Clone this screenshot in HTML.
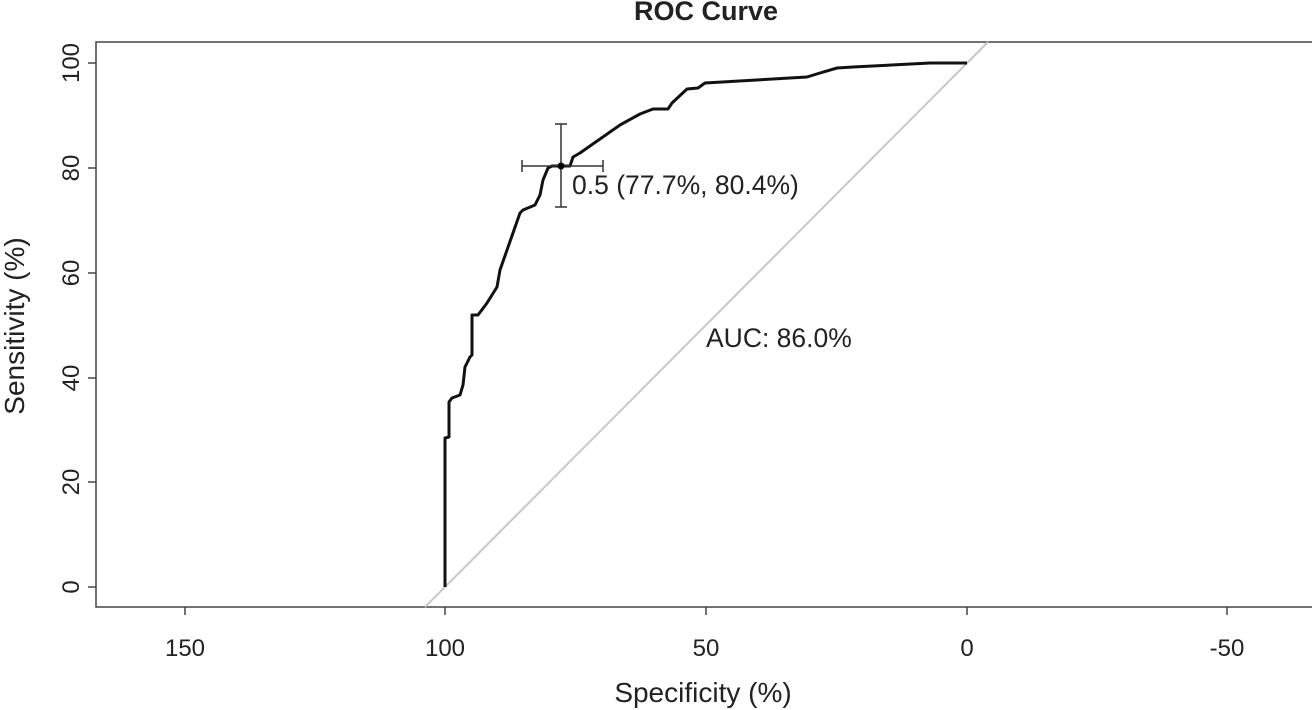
<!DOCTYPE html>
<html><head><style>body{margin:0;background:#fff}svg{display:block}</style></head><body>
<svg width="1312" height="710" xmlns="http://www.w3.org/2000/svg" font-family="Liberation Sans, sans-serif" fill="#222">
<text x="706" y="20" font-size="27" font-weight="bold" text-anchor="middle">ROC Curve</text>
<rect x="96" y="42" width="1230" height="565" fill="none" stroke="#444" stroke-width="1.5"/>
<g stroke="#444" stroke-width="1.5">
<line x1="96" y1="63" x2="88" y2="63"/><line x1="96" y1="168" x2="88" y2="168"/><line x1="96" y1="273" x2="88" y2="273"/><line x1="96" y1="378" x2="88" y2="378"/><line x1="96" y1="482" x2="88" y2="482"/><line x1="96" y1="587" x2="88" y2="587"/>
<line x1="185" y1="607" x2="185" y2="615"/><line x1="445" y1="607" x2="445" y2="615"/><line x1="706" y1="607" x2="706" y2="615"/><line x1="967" y1="607" x2="967" y2="615"/><line x1="1227" y1="607" x2="1227" y2="615"/>
</g>
<g font-size="24" text-anchor="middle">
<text transform="translate(79,63) rotate(-90)">100</text>
<text transform="translate(79,168) rotate(-90)">80</text>
<text transform="translate(79,273) rotate(-90)">60</text>
<text transform="translate(79,378) rotate(-90)">40</text>
<text transform="translate(79,482) rotate(-90)">20</text>
<text transform="translate(79,587) rotate(-90)">0</text>
<text x="185" y="656">150</text><text x="445" y="656">100</text><text x="706" y="656">50</text><text x="967" y="656">0</text><text x="1227" y="656">-50</text>
</g>
<g font-size="28" text-anchor="middle">
<text x="703" y="702">Specificity (%)</text>
<text transform="translate(24,326) rotate(-90)">Sensitivity (%)</text>
</g>
<line x1="425" y1="607" x2="988" y2="42" stroke="#c8c8c8" stroke-width="2"/>
<polyline fill="none" stroke="#111" stroke-width="3" stroke-linejoin="round" points="445,587 445,438 449,437 449,402 452,398 460,395 463,385 465,367 467,363 470,357 472,355 472,315 478,315 487,303 497,287 500,270 520,213 523,210 535,205 540,195 543,180 548,168 552,166 570,166 573,157 580,153 620,125 640,114 653,109 668,109 672,103 687,89 698,88 705,83 807,77 820,73 837,68 853,67 930,63 967,63"/>
<g stroke="#333" stroke-width="1.5">
<line x1="522" y1="166" x2="603" y2="166"/><line x1="522" y1="160" x2="522" y2="172"/><line x1="603" y1="160" x2="603" y2="172"/>
<line x1="561" y1="124" x2="561" y2="207"/><line x1="555" y1="124" x2="567" y2="124"/><line x1="555" y1="207" x2="567" y2="207"/>
</g>
<circle cx="561" cy="166" r="3.5" fill="#000"/>
<text x="572" y="194" font-size="26.5">0.5 (77.7%, 80.4%)</text>
<text x="706" y="347" font-size="26.5">AUC: 86.0%</text>
</svg>
</body></html>
